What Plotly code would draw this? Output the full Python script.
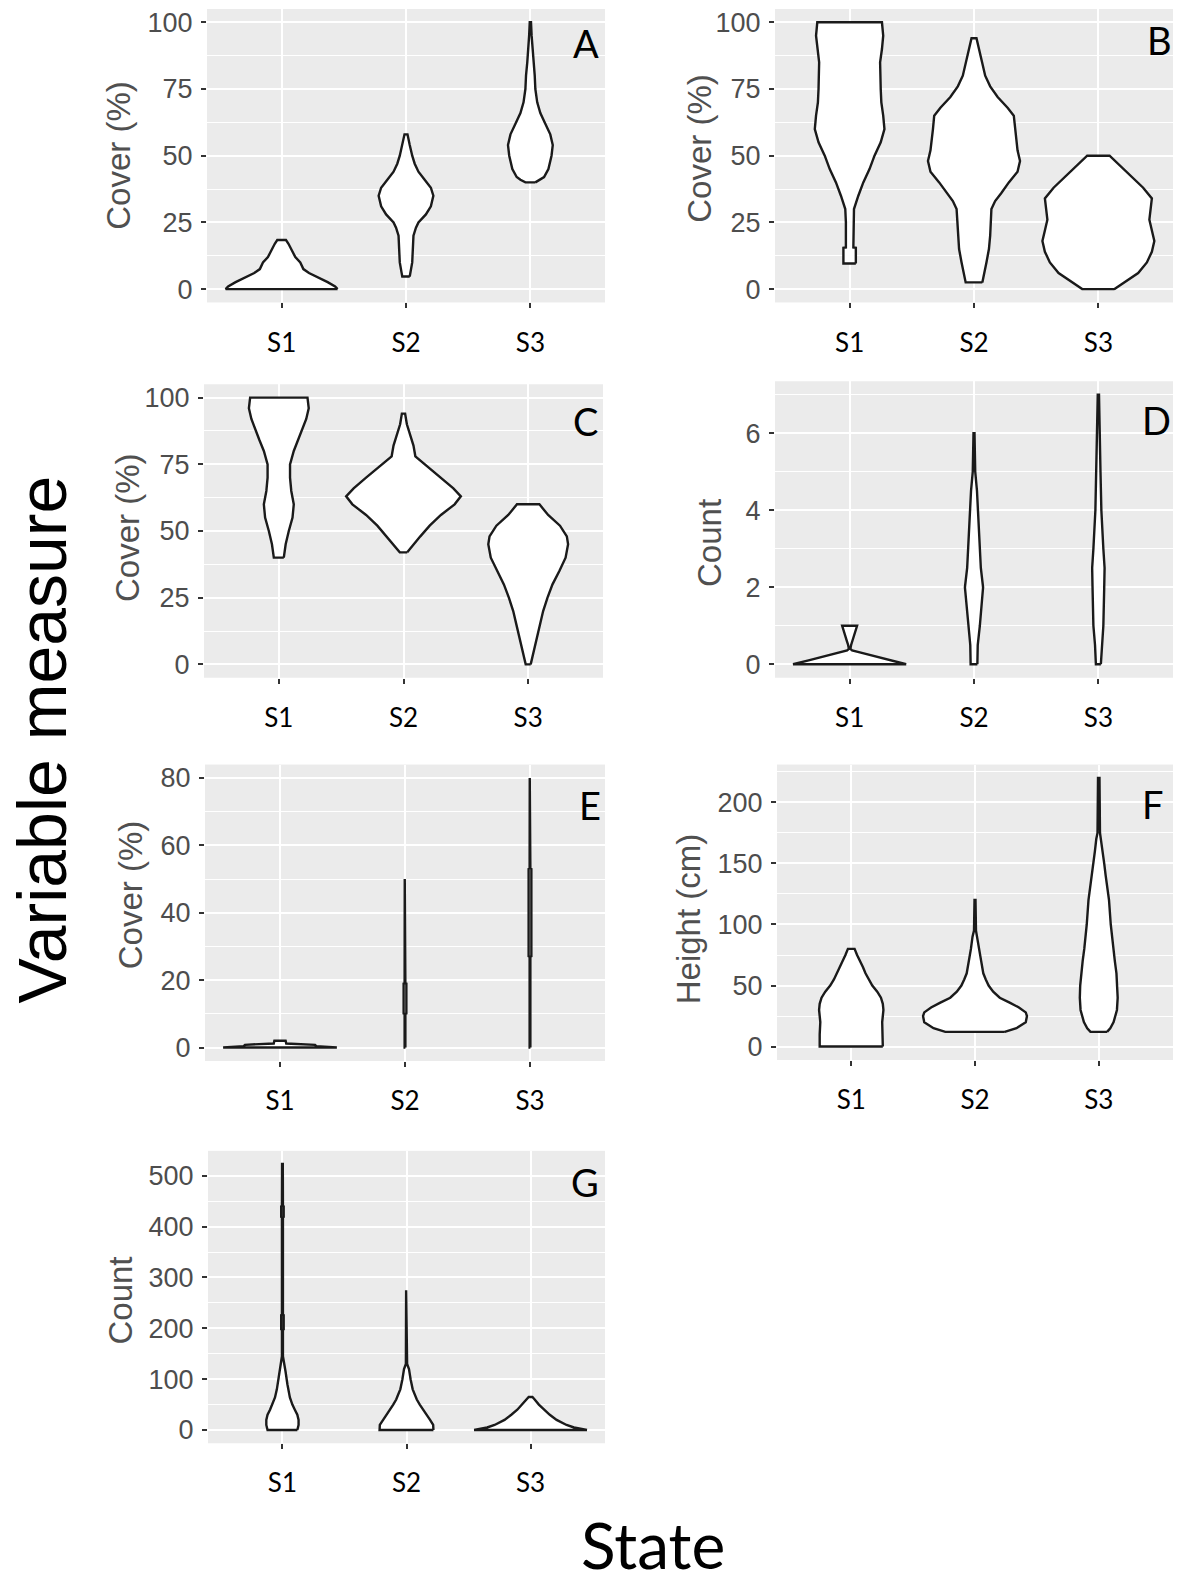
import plotly.graph_objects as go

W, H = 1177, 1588
STATES = ["S1", "S2", "S3"]

# ---------------- data: violin outlines (value levels, half-width of density) ----------------
A_S1_y = [0, 1, 2.6, 4.5, 6, 7.5, 10, 12, 14.5, 17, 18.4]
A_S1_w = [0.45, 0.43, 0.37, 0.29, 0.22, 0.175, 0.15, 0.11, 0.085, 0.055, 0.035]
A_S2_y = [4.7, 6, 10, 15, 20, 23, 25, 28, 31, 35, 38, 41, 44, 47, 50, 54, 58]
A_S2_w = [0.03, 0.035, 0.05, 0.055, 0.06, 0.08, 0.1, 0.16, 0.2, 0.22, 0.2, 0.15, 0.1, 0.07, 0.05, 0.03, 0.012]
A_S3_y = [40, 41, 42, 45, 50, 54, 58, 62, 66, 70, 75, 80, 85, 90, 95, 100]
A_S3_w = [0.04, 0.08, 0.11, 0.145, 0.17, 0.18, 0.16, 0.12, 0.08, 0.055, 0.04, 0.035, 0.025, 0.015, 0.01, 0.005]

B_S1_y = [9.6, 15.5, 15.6, 25, 30, 35, 40, 45, 50, 55, 60, 65, 70, 75, 85, 90, 95, 100]
B_S1_w = [0.05, 0.05, 0.03, 0.03, 0.035, 0.07, 0.11, 0.16, 0.2, 0.25, 0.28, 0.27, 0.255, 0.25, 0.245, 0.26, 0.27, 0.26]
B_S2_y = [2.5, 5, 10, 15, 20, 30, 33, 36, 40, 44, 48, 52, 56, 60, 65, 68, 72, 76, 80, 85, 90, 94]
B_S2_w = [0.067, 0.08, 0.1, 0.12, 0.13, 0.14, 0.17, 0.22, 0.28, 0.35, 0.37, 0.35, 0.34, 0.33, 0.32, 0.27, 0.19, 0.13, 0.09, 0.065, 0.04, 0.02]
B_S3_y = [0, 3, 6, 10, 14, 18, 22, 26, 30, 34, 38, 42, 46, 50]
B_S3_w = [0.13, 0.23, 0.32, 0.39, 0.43, 0.45, 0.43, 0.41, 0.42, 0.43, 0.36, 0.27, 0.18, 0.09]

C_S1_y = [40, 45, 50, 55, 60, 65, 70, 75, 80, 84, 88, 92, 96, 100]
C_S1_w = [0.04, 0.055, 0.08, 0.11, 0.12, 0.1, 0.09, 0.09, 0.12, 0.155, 0.19, 0.22, 0.24, 0.23]
C_S2_y = [42, 45, 48, 52, 56, 60, 63, 66, 70, 74, 78, 82, 86, 90, 94]
C_S2_w = [0.03, 0.08, 0.135, 0.21, 0.3, 0.41, 0.46, 0.4, 0.3, 0.2, 0.095, 0.08, 0.055, 0.027, 0.013]
C_S3_y = [0, 5, 10, 15, 20, 25, 30, 35, 40, 45, 48, 52, 56, 60]
C_S3_w = [0.02, 0.045, 0.07, 0.095, 0.12, 0.155, 0.195, 0.25, 0.3, 0.32, 0.31, 0.255, 0.16, 0.09]

D_S1_y = [0, 0.1, 0.2, 0.3, 0.36, 0.4, 0.5, 0.6, 0.7, 0.8, 0.9, 1.0]
D_S1_w = [0.455, 0.33, 0.19, 0.09, 0.02, 0.006, 0.012, 0.022, 0.032, 0.042, 0.052, 0.06]
D_S2_y = [0, 0.5, 1, 1.5, 2, 2.5, 3, 3.5, 4, 4.5, 5, 6]
D_S2_w = [0.027, 0.03, 0.047, 0.057, 0.073, 0.055, 0.047, 0.036, 0.033, 0.024, 0.01, 0.004]
D_S3_y = [0, 0.5, 1, 2, 2.5, 3, 4, 5, 6, 7]
D_S3_w = [0.02, 0.027, 0.04, 0.047, 0.05, 0.04, 0.024, 0.017, 0.01, 0.005]

E_S1_y = [0, 0.4, 0.8, 1.2, 2.0]
E_S1_w = [0.455, 0.29, 0.28, 0.05, 0.045]
E_S2_y = [0, 10, 10.1, 19, 19.1, 50]
E_S2_w = [0.003, 0.003, 0.011, 0.011, 0.003, 0.002]
E_S3_y = [0, 27, 27.1, 53, 53.1, 80]
E_S3_w = [0.003, 0.003, 0.011, 0.011, 0.003, 0.002]

F_S1_y = [0, 10, 20, 30, 35, 40, 45, 50, 55, 60, 65, 70, 75, 80]
F_S1_w = [0.255, 0.255, 0.25, 0.26, 0.255, 0.24, 0.21, 0.17, 0.14, 0.115, 0.095, 0.07, 0.047, 0.027]
F_S2_y = [12, 15, 20, 25, 28, 32, 36, 40, 45, 50, 55, 60, 70, 80, 90, 95, 120]
F_S2_w = [0.24, 0.335, 0.41, 0.42, 0.41, 0.355, 0.28, 0.2, 0.147, 0.11, 0.087, 0.067, 0.05, 0.033, 0.02, 0.008, 0.004]
F_S3_y = [12, 15, 20, 30, 40, 50, 60, 70, 80, 90, 100, 120, 130, 140, 150, 160, 170, 175, 220]
F_S3_w = [0.067, 0.093, 0.12, 0.147, 0.153, 0.15, 0.143, 0.13, 0.117, 0.104, 0.097, 0.083, 0.067, 0.056, 0.044, 0.031, 0.02, 0.01, 0.006]

G_S1_y = [0, 10, 20, 30, 40, 50, 64, 80, 90, 115, 135, 145, 197, 198, 226, 227, 418, 419, 440, 441, 523]
G_S1_w = [0.12, 0.13, 0.13, 0.12, 0.1, 0.08, 0.06, 0.045, 0.04, 0.025, 0.01, 0.004, 0.004, 0.01, 0.01, 0.004, 0.004, 0.01, 0.01, 0.004, 0.003]
G_S2_y = [0, 10, 20, 30, 40, 50, 60, 70, 80, 100, 120, 130, 275]
G_S2_w = [0.217, 0.215, 0.19, 0.16, 0.134, 0.107, 0.083, 0.067, 0.05, 0.033, 0.02, 0.005, 0.003]
G_S3_y = [0, 5, 10, 20, 30, 40, 50, 60, 65]
G_S3_w = [0.455, 0.35, 0.29, 0.21, 0.155, 0.107, 0.067, 0.033, 0.015]

Y_TITLES = ["Cover (%)", "Cover (%)", "Cover (%)", "Count", "Cover (%)", "Height (cm)", "Count"]
LETTERS = ["A", "B", "C", "D", "E", "F", "G"]

VIOLINS = [
    [(A_S1_y, A_S1_w), (A_S2_y, A_S2_w), (A_S3_y, A_S3_w)],
    [(B_S1_y, B_S1_w), (B_S2_y, B_S2_w), (B_S3_y, B_S3_w)],
    [(C_S1_y, C_S1_w), (C_S2_y, C_S2_w), (C_S3_y, C_S3_w)],
    [(D_S1_y, D_S1_w), (D_S2_y, D_S2_w), (D_S3_y, D_S3_w)],
    [(E_S1_y, E_S1_w), (E_S2_y, E_S2_w), (E_S3_y, E_S3_w)],
    [(F_S1_y, F_S1_w), (F_S2_y, F_S2_w), (F_S3_y, F_S3_w)],
    [(G_S1_y, G_S1_w), (G_S2_y, G_S2_w), (G_S3_y, G_S3_w)],
]

# ---------------- layout specs (pixels) ----------------
BOXES = [
    (207, 605, 8, 302), (775, 1173, 8, 302),
    (204, 603, 384, 678), (775, 1173, 381, 678),
    (205, 605, 765, 1062), (777, 1173, 765, 1061),
    (208, 605, 1152, 1445),
]
YRANGES = [(-5, 105), (-5, 105), (-5, 105), (-0.35, 7.35), (-4, 84), (-11, 231), (-26, 549)]
YDTICK = [25, 25, 25, 2, 20, 50, 100]
TITLE_POS = [(119, 155), (700, 147), (127, 528), (710, 543), (130, 896), (688, 920), (121, 1302)]
LETTER_POS = [(586, 42), (1159, 39), (585, 421), (1156, 420), (590, 806), (1153, 805), (585, 1183)]

fig = go.Figure()
layout = dict(
    width=W, height=H, margin=dict(l=0, r=0, t=0, b=0),
    paper_bgcolor="white", plot_bgcolor="#EBEBEB", showlegend=False,
)
annotations = []

for i in range(7):
    n = i + 1
    xa = "x" if n == 1 else f"x{n}"
    ya = "y" if n == 1 else f"y{n}"
    x0, x1, y0, y1 = BOXES[i]
    for j, (ys, ws) in enumerate(VIOLINS[i]):
        c = j + 1
        xs = [c + w for w in ws] + [c - w for w in reversed(ws)]
        yy = list(ys) + list(reversed(ys))
        xs.append(xs[0]); yy.append(yy[0])
        fig.add_trace(go.Scatter(
            x=xs, y=yy, mode="lines", fill="toself", fillcolor="white",
            line=dict(color="#1a1a1a", width=2.4), xaxis=xa, yaxis=ya,
            hoverinfo="skip"))
    layout[f"xaxis{'' if n == 1 else n}"] = dict(
        domain=[x0 / W, x1 / W], anchor=ya, range=[0.4, 3.6],
        tickmode="array", tickvals=[1, 2, 3], ticktext=STATES,
        showgrid=True, gridcolor="white", gridwidth=2, zeroline=False,
        showline=False, ticks="outside", ticklen=5, tickwidth=1.5, tickcolor="#333333",
        tickfont=dict(family="Lato", size=26, color="black"),
        ticklabelstandoff=12, fixedrange=True)
    d = YDTICK[i]
    layout[f"yaxis{'' if n == 1 else n}"] = dict(
        domain=[1 - y1 / H, 1 - y0 / H], anchor=xa, range=list(YRANGES[i]),
        tickmode="linear", tick0=0, dtick=d,
        showgrid=True, gridcolor="white", gridwidth=2, zeroline=False,
        showline=False, ticks="outside", ticklen=5, tickwidth=1.5, tickcolor="#333333",
        tickfont=dict(family="Liberation Sans", size=27, color="#4D4D4D"),
        ticklabelstandoff=3,
        minor=dict(tick0=0, dtick=d / 2, showgrid=True, gridcolor="white", gridwidth=1, ticks=""),
        fixedrange=True)
    tx, ty = TITLE_POS[i]
    annotations.append(dict(
        text=Y_TITLES[i], x=tx / W, y=1 - ty / H, xref="paper", yref="paper",
        textangle=-90, showarrow=False, xanchor="center", yanchor="middle",
        font=dict(family="Liberation Sans", size=33, color="#505050")))
    lx, ly = LETTER_POS[i]
    annotations.append(dict(
        text=LETTERS[i], x=lx / W, y=1 - ly / H, xref="paper", yref="paper",
        showarrow=False, xanchor="center", yanchor="middle",
        font=dict(family="Lato", size=38, color="black")))

annotations.append(dict(
    text="Variable measure", x=42 / W, y=1 - 740 / H, xref="paper", yref="paper",
    textangle=-90, showarrow=False, xanchor="center", yanchor="middle",
    font=dict(family="Liberation Sans", size=68, color="black")))
annotations.append(dict(
    text="State", x=653 / W, y=1 - 1546 / H, xref="paper", yref="paper",
    showarrow=False, xanchor="center", yanchor="middle",
    font=dict(family="Lato", size=64, color="black")))

layout["annotations"] = annotations
fig.update_layout(**layout)
fig.write_html("out.html")
